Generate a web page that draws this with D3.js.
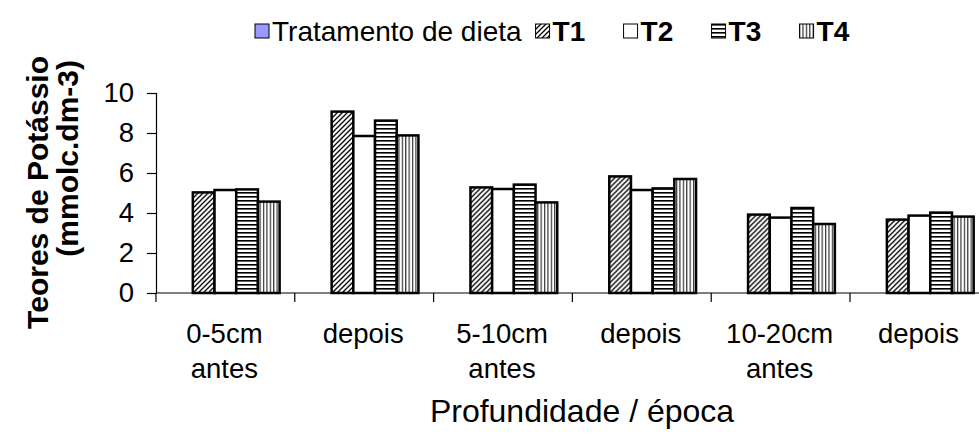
<!DOCTYPE html>
<html>
<head>
<meta charset="utf-8">
<script src="https://cdn.jsdelivr.net/npm/d3@7"></script>
<style>
  body { margin: 0; background: #fff; }
  text { font-family: "Liberation Sans", Arial, sans-serif; fill: #000; }
</style>
</head>
<body>
<div id="chart"></div>
<script>
// categories (two lines each) and series
const categories = [["0-5cm", "antes"], ["depois"], ["5-10cm", "antes"], ["depois"], ["10-20cm", "antes"], ["depois"]];
const seriesNames = ["Tratamento de dieta", "T1", "T2", "T3", "T4"];
const dieta = [null, null, null, null, null, null];
const t1 = [5.03, 9.07, 5.28, 5.83, 3.92, 3.67];
const t2 = [5.15, 7.85, 5.20, 5.15, 3.77, 3.87];
const t3 = [5.18, 8.62, 5.42, 5.23, 4.25, 4.02];
const t4 = [4.57, 7.88, 4.53, 5.70, 3.45, 3.82];
const yTicks = [0, 2, 4, 6, 8, 10];

const seriesValues = [dieta, t1, t2, t3, t4];

const width = 979;
const height = 437;
const plot = {left: 156, top: 93, bottom: 293, step: 138.8};

const svg = d3.select("#chart")
              .append("svg")
              .attr("width", width)
              .attr("height", height);

// fill patterns
const defs = svg.append("defs");

const diag = defs.append("pattern")
    .attr("id", "p-diag")
    .attr("patternUnits", "userSpaceOnUse")
    .attr("width", 5).attr("height", 5);
diag.append("rect").attr("width", 5).attr("height", 5).attr("fill", "#fff");
diag.append("path")
    .attr("d", "M-1,6 L6,-1 M-1,1 L1,-1 M4,6 L6,4")
    .attr("stroke", "#000").attr("stroke-width", 1.3);

const horiz = defs.append("pattern")
    .attr("id", "p-horiz")
    .attr("patternUnits", "userSpaceOnUse")
    .attr("width", 4).attr("height", 4);
horiz.append("rect").attr("width", 4).attr("height", 4).attr("fill", "#fff");
horiz.append("rect").attr("y", 0).attr("width", 4).attr("height", 1.6).attr("fill", "#000");

const vert = defs.append("pattern")
    .attr("id", "p-vert")
    .attr("patternUnits", "userSpaceOnUse")
    .attr("width", 3.4).attr("height", 4);
vert.append("rect").attr("width", 3.4).attr("height", 4).attr("fill", "#fff");
vert.append("rect").attr("x", 0).attr("width", 1.2).attr("height", 4).attr("fill", "#333");

const fills = ["#9999ff", "url(#p-diag)", "#fff", "url(#p-horiz)", "url(#p-vert)"];

const x0 = d3.scaleBand()
             .domain(d3.range(categories.length))
             .range([plot.left, plot.left + plot.step * categories.length])
             .paddingInner(0.2185)
             .paddingOuter(0.109);

const x1 = d3.scaleBand()
             .domain(seriesNames)
             .range([0, x0.bandwidth()]);

const y = d3.scaleLinear()
            .domain([0, 10])
            .range([plot.bottom, plot.top]);

// category centre = middle of the slot between boundary ticks
const catCenter = i => x0(i) + x0.bandwidth() / 2;

// bars
const groups = svg.append("g")
    .selectAll("g")
    .data(categories)
    .join("g")
    .attr("transform", (d, i) => `translate(${x0(i)},0)`);

groups.selectAll("rect")
    .data((d, i) => seriesNames.map((s, k) => ({s, k, v: seriesValues[k][i]})).filter(e => e.v != null))
    .join("rect")
    .attr("x", d => x1(d.s))
    .attr("y", d => y(d.v))
    .attr("width", x1.bandwidth())
    .attr("height", d => y(0) - y(d.v))
    .attr("fill", d => fills[d.k])
    .attr("stroke", "#000")
    .attr("stroke-width", 2.5);

// y axis
const yAxis = svg.append("g")
    .attr("transform", `translate(${plot.left},0)`)
    .call(d3.axisLeft(y).tickValues(yTicks).tickSize(9).tickPadding(13).tickFormat(d3.format("d")));
yAxis.select(".domain").attr("stroke", "#000").attr("stroke-width", 1.2);
yAxis.selectAll(".tick line").attr("stroke", "#000").attr("stroke-width", 1.2);
yAxis.selectAll("text").attr("font-size", "27.5px").attr("font-family", "Liberation Sans, Arial, sans-serif");

// x axis line and tick marks at category boundaries
svg.append("line")
    .attr("x1", plot.left).attr("x2", width)
    .attr("y1", y(0)).attr("y2", y(0))
    .attr("stroke", "#000").attr("stroke-width", 1.2);

svg.append("g")
    .selectAll("line")
    .data(d3.range(categories.length))
    .join("line")
    .attr("x1", i => x0(i) - x0.step() * x0.paddingInner() / 2)
    .attr("x2", i => x0(i) - x0.step() * x0.paddingInner() / 2)
    .attr("y1", y(0)).attr("y2", y(0) + 9)
    .attr("stroke", "#000").attr("stroke-width", 1.2);

// category labels
const catLabels = svg.append("g")
    .selectAll("text")
    .data(categories)
    .join("text")
    .attr("text-anchor", "middle")
    .attr("font-size", "27.5px")
    .attr("transform", (d, i) => `translate(${catCenter(i) - 1},0)`);

catLabels.selectAll("tspan")
    .data(d => d)
    .join("tspan")
    .attr("x", 0)
    .attr("y", (d, j) => 343 + j * 35)
    .text(d => d);

// axis titles
svg.append("text")
    .attr("x", 582).attr("y", 422)
    .attr("text-anchor", "middle")
    .attr("font-size", "32px")
    .text("Profundidade / época");

const yTitle = svg.append("text")
    .attr("transform", "rotate(-90)")
    .attr("text-anchor", "end")
    .attr("font-size", "30px")
    .attr("font-weight", "bold");
yTitle.append("tspan").attr("x", -56).attr("y", 48).text("Teores de Potássio");
yTitle.append("tspan").attr("x", -60).attr("y", 78).text("(mmolc.dm-3)");

// legend: first entry sized by its text, the T entries in equal slots
const legend = svg.append("g").attr("transform", "translate(255,0)");
let lx = 0;
seriesNames.forEach((name, k) => {
  legend.append("rect")
      .attr("x", lx).attr("y", 24)
      .attr("width", 14).attr("height", 14)
      .attr("fill", fills[k])
      .attr("stroke", "#000")
      .attr("stroke-width", 1);
  const t = legend.append("text")
      .attr("x", lx + 17).attr("y", 41)
      .attr("font-size", "28px")
      .attr("font-weight", k === 0 ? "normal" : "bold")
      .text(name);
  lx += k === 0 ? 17 + t.node().getComputedTextLength() + 14 : 88;
});
</script>
</body>
</html>
